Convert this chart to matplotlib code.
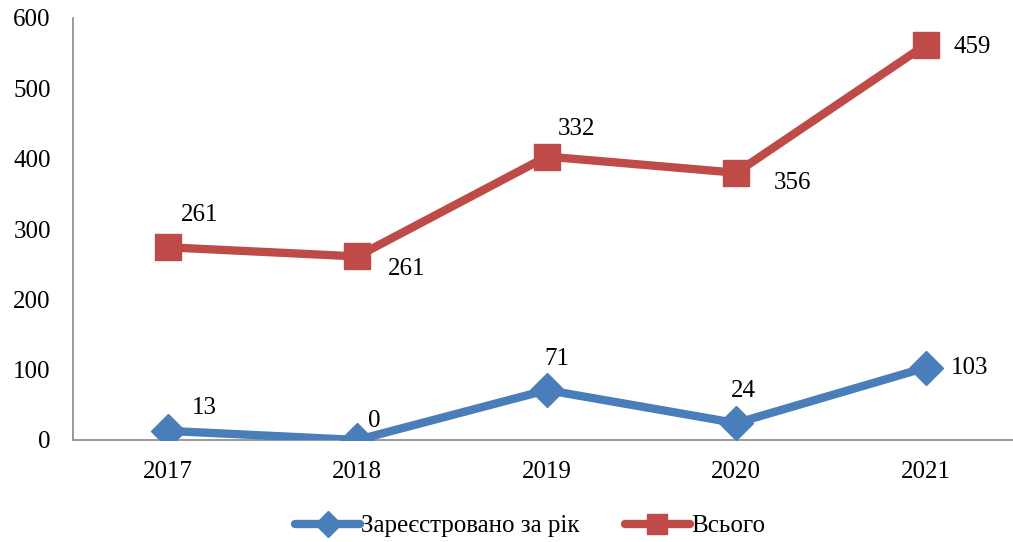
import matplotlib
matplotlib.use("Agg")
import matplotlib.pyplot as plt
import numpy as np

years = ["2017", "2018", "2019", "2020", "2021"]
registered = [13, 0, 71, 24, 103]
total = [261, 261, 332, 356, 459]
label_reg = "Зареєстровано за рік"
label_tot = "Всього"

plt.rcParams['font.family'] = ['Liberation Serif', 'DejaVu Serif']

fig = plt.figure(figsize=(10.13, 5.42), dpi=100)
W, H = 1013, 542
ax = fig.add_axes([73 / W, 1 - 440 / H, (1013 - 73) / W, (440 - 18) / H])

x = np.arange(len(years))
stacked = np.array(registered) + np.array(total)

blue = "#4A7EBB"
red = "#BE4B48"
FS = 18
ax.plot(x, registered, color=blue, lw=6, marker="D", markersize=17,
        solid_capstyle="round", label=label_reg, zorder=3)
ax.plot(x, stacked, color=red, lw=6, marker="s", markersize=19,
        solid_capstyle="round", label=label_tot, zorder=3)

# label offsets in pixels (dx, dy)
reg_off = [(37, 23), (17, 19), (10, 31), (7, 32), (44, 0)]
tot_off = [(32, 32), (49, -13), (30, 28), (56, -10), (46, -2)]
for i in range(len(years)):
    ax.annotate(str(registered[i]), (x[i], registered[i]), xytext=reg_off[i],
                textcoords="offset pixels", ha="center", va="center", fontsize=FS)
    ax.annotate(str(total[i]), (x[i], stacked[i]), xytext=tot_off[i],
                textcoords="offset pixels", ha="center", va="center", fontsize=FS)

ax.set_xlim(-0.5, 4.46)
ax.set_ylim(0, 600)
ax.set_yticks(range(0, 601, 100))
ax.set_xticks(x)
ax.set_xticklabels(years)
ax.tick_params(axis="both", length=0, labelsize=FS)
ax.tick_params(axis="y", pad=16)
ax.tick_params(axis="x", pad=15)
for s in ["top", "right"]:
    ax.spines[s].set_visible(False)
for s in ["left", "bottom"]:
    ax.spines[s].set_color("#888888")
    ax.spines[s].set_linewidth(1.2)

fig.legend(loc="center", bbox_to_anchor=(530 / W, 1 - 526 / H), ncol=2,
           frameon=False, fontsize=FS, handlelength=2.6, columnspacing=1.8,
           handletextpad=0.05, markerscale=0.75)

fig.savefig("out.png", dpi=100)
